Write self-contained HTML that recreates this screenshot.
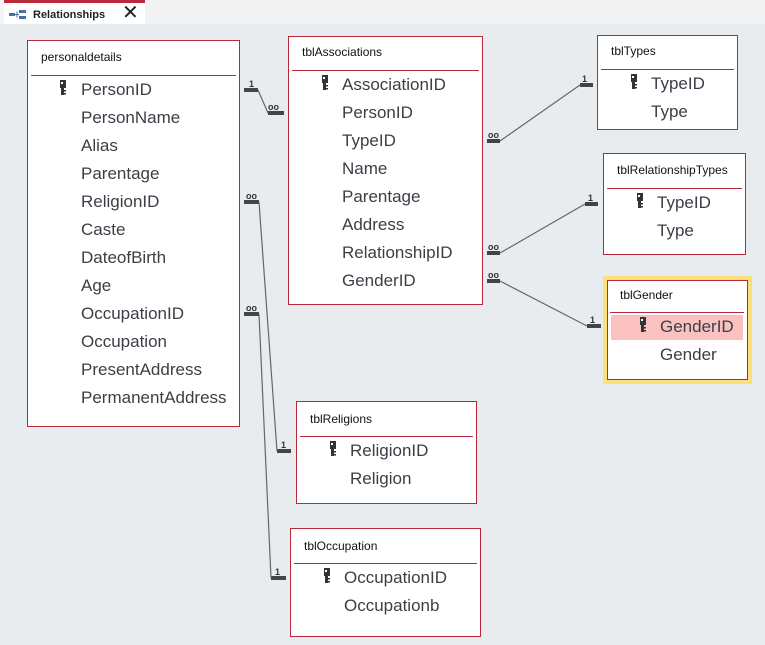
<!DOCTYPE html>
<html><head><meta charset="utf-8"><style>
body{margin:0;width:765px;height:645px;background:#e9ecef;position:relative;overflow:hidden;font-family:"Segoe UI","Liberation Sans",sans-serif;}
.t{position:absolute;background:#fff;border:1px solid #b8293b;box-sizing:border-box;}
.ti{position:absolute;font-size:12px;color:#111;}
.ln{position:absolute;height:1px;background:#b8293b;}
.r{position:absolute;font-size:17px;color:#3a3f46;white-space:nowrap;line-height:20px;}
.k{position:absolute;width:6px;height:16px;}
</style></head><body>
<div style="position:absolute;left:0;top:0;width:765px;height:24px;background:#f3f3f3"></div>
<div style="position:absolute;left:4px;top:0;width:141px;height:24px;background:#fff;border-top:3px solid #b8293b;box-sizing:border-box"></div>
<div style="position:absolute;left:33px;top:9px;font-size:11px;font-weight:bold;color:#222">Relationships</div>
<div style="position:absolute;left:122px;top:0px;font-size:20px;color:#222">✕</div>
<svg style="position:absolute;left:9px;top:10px" width="18" height="10"><rect x="0" y="3" width="6" height="3" fill="#4a6fa5"/><rect x="10" y="0" width="7" height="3" fill="#4a6fa5"/><rect x="10" y="6" width="7" height="3" fill="#4a6fa5"/><path d="M6 4.5H10M8 1.5V7.5" stroke="#4a6fa5"/></svg>

<svg style="position:absolute;left:0;top:0" width="765" height="645">
<g stroke="#444" stroke-width="4" fill="none">
<path d="M244 90H258M268 113H284"/>
<path d="M244 202H259M277 451H291"/>
<path d="M244 314H259M271 578H286"/>
<path d="M487 141H500M580 85H593"/>
<path d="M487 253H500M585 204H598"/>
<path d="M487 281H500M587 326H601"/>
</g>
<g stroke="#666" stroke-width="1.2" fill="none">
<path d="M258 90L268 113M259 202L277 451M259 314L271 578M500 141L580 85M500 253L585 204M500 281L587 326"/>
</g>
<g font-family="Liberation Sans" font-size="9" font-weight="bold" fill="#333">
<text x="249" y="87">1</text><text x="268" y="110">oo</text>
<text x="246" y="199">oo</text><text x="281" y="448">1</text>
<text x="246" y="311">oo</text><text x="275" y="575">1</text>
<text x="488" y="138">oo</text><text x="582" y="82">1</text>
<text x="488" y="250">oo</text><text x="588" y="201">1</text>
<text x="488" y="278">oo</text><text x="590" y="323">1</text>
</g>
</svg>

<!-- personaldetails -->
<div class="t" style="left:27px;top:40px;width:213px;height:387px"></div>
<div class="ti" style="left:41px;top:50px">personaldetails</div>
<div class="ln" style="left:31px;top:75px;width:205px"></div>
<div class="r" style="left:81px;top:80px">PersonID</div>
<div class="r" style="left:81px;top:108px">PersonName</div>
<div class="r" style="left:81px;top:136px">Alias</div>
<div class="r" style="left:81px;top:164px">Parentage</div>
<div class="r" style="left:81px;top:192px">ReligionID</div>
<div class="r" style="left:81px;top:220px">Caste</div>
<div class="r" style="left:81px;top:248px">DateofBirth</div>
<div class="r" style="left:81px;top:276px">Age</div>
<div class="r" style="left:81px;top:304px">OccupationID</div>
<div class="r" style="left:81px;top:332px">Occupation</div>
<div class="r" style="left:81px;top:360px">PresentAddress</div>
<div class="r" style="left:81px;top:388px">PermanentAddress</div>

<!-- tblAssociations -->
<div class="t" style="left:288px;top:36px;width:195px;height:269px"></div>
<div class="ti" style="left:302px;top:45px">tblAssociations</div>
<div class="ln" style="left:292px;top:70px;width:187px"></div>
<div class="r" style="left:342px;top:75px">AssociationID</div>
<div class="r" style="left:342px;top:103px">PersonID</div>
<div class="r" style="left:342px;top:131px">TypeID</div>
<div class="r" style="left:342px;top:159px">Name</div>
<div class="r" style="left:342px;top:187px">Parentage</div>
<div class="r" style="left:342px;top:215px">Address</div>
<div class="r" style="left:342px;top:243px">RelationshipID</div>
<div class="r" style="left:342px;top:271px">GenderID</div>

<!-- tblTypes -->
<div class="t" style="left:597px;top:35px;width:141px;height:95px"></div>
<div class="ti" style="left:611px;top:44px">tblTypes</div>
<div class="ln" style="left:601px;top:69px;width:133px"></div>
<div class="r" style="left:651px;top:74px">TypeID</div>
<div class="r" style="left:651px;top:102px">Type</div>

<!-- tblRelationshipTypes -->
<div class="t" style="left:603px;top:153px;width:143px;height:102px"></div>
<div class="ti" style="left:617px;top:163px">tblRelationshipTypes</div>
<div class="ln" style="left:607px;top:188px;width:135px"></div>
<div class="r" style="left:657px;top:193px">TypeID</div>
<div class="r" style="left:657px;top:221px">Type</div>

<!-- tblGender -->
<div style="position:absolute;left:603px;top:276px;width:149px;height:108px;background:#fde07a"></div>
<div class="t" style="left:607px;top:280px;width:141px;height:100px"></div>
<div class="ti" style="left:620px;top:288px">tblGender</div>
<div class="ln" style="left:610px;top:312px;width:134px"></div>
<div style="position:absolute;left:611px;top:315px;width:132px;height:25px;background:#fbc1c1"></div>
<div class="r" style="left:660px;top:317px">GenderID</div>
<div class="r" style="left:660px;top:345px">Gender</div>

<!-- tblReligions -->
<div class="t" style="left:296px;top:401px;width:181px;height:103px"></div>
<div class="ti" style="left:310px;top:412px">tblReligions</div>
<div class="ln" style="left:300px;top:436px;width:173px"></div>
<div class="r" style="left:350px;top:441px">ReligionID</div>
<div class="r" style="left:350px;top:469px">Religion</div>

<!-- tblOccupation -->
<div class="t" style="left:290px;top:528px;width:191px;height:109px"></div>
<div class="ti" style="left:304px;top:539px">tblOccupation</div>
<div class="ln" style="left:294px;top:563px;width:183px"></div>
<div class="r" style="left:344px;top:568px">OccupationID</div>
<div class="r" style="left:344px;top:596px">Occupationb</div>

<!-- keys -->
<svg style="position:absolute;left:0;top:0" width="765" height="645">
<defs><g id="key"><rect x="0" y="0" width="6" height="8" fill="#333"/><rect x="1" y="2" width="2" height="2" fill="#fff"/><rect x="1" y="8" width="3" height="7" fill="#333"/><rect x="4" y="10" width="2" height="1.5" fill="#333"/><rect x="4" y="13" width="2" height="1.5" fill="#333"/></g></defs>
<use href="#key" x="60" y="80"/>
<use href="#key" x="322" y="75"/>
<use href="#key" x="631" y="74"/>
<use href="#key" x="637" y="193"/>
<use href="#key" x="640" y="317"/>
<use href="#key" x="330" y="441"/>
<use href="#key" x="324" y="568"/>
</svg>
</body></html>
